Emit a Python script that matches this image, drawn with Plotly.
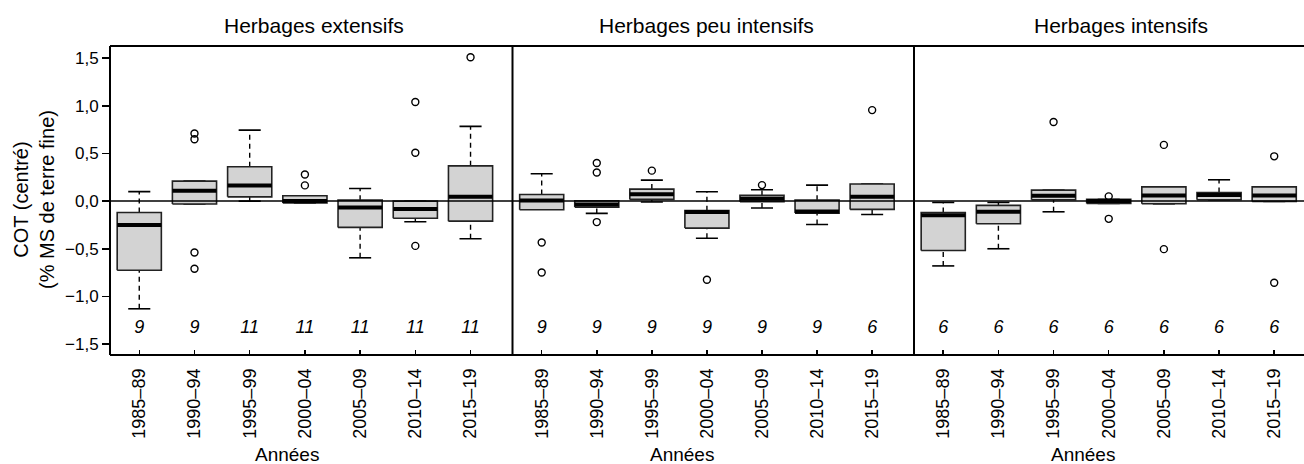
import plotly.graph_objects as go

# ---------------- data ----------------
periods = ["1985–89", "1990–94", "1995–99", "2000–04", "2005–09", "2010–14", "2015–19"]
panel_titles = ["Herbages extensifs", "Herbages peu intensifs", "Herbages intensifs"]

# Herbages extensifs
ext_lower = [-1.13, -0.03, 0.00, -0.02, -0.595, -0.217, -0.395]
ext_q1 = [-0.725, -0.03, 0.045, -0.02, -0.276, -0.18, -0.21]
ext_median = [-0.25, 0.11, 0.165, 0.0, -0.066, -0.084, 0.045]
ext_q3 = [-0.12, 0.21, 0.36, 0.056, 0.01, 0.0, 0.37]
ext_upper = [0.10, 0.21, 0.745, 0.056, 0.133, 0.0, 0.784]
ext_outliers = [[], [0.71, 0.65, -0.54, -0.71], [], [0.28, 0.165], [], [1.04, 0.507, -0.47], [1.51]]
ext_n = [9, 9, 11, 11, 11, 11, 11]

# Herbages peu intensifs
peu_lower = [-0.085, -0.129, -0.01, -0.39, -0.073, -0.245, -0.14]
peu_q1 = [-0.09, -0.063, 0.018, -0.283, -0.007, -0.126, -0.087]
peu_median = [0.007, -0.035, 0.073, -0.115, 0.025, -0.108, 0.045]
peu_q3 = [0.07, 0.003, 0.126, -0.10, 0.06, 0.01, 0.18]
peu_upper = [0.287, 0.003, 0.22, 0.098, 0.12, 0.168, 0.18]
peu_outliers = [[-0.434, -0.749], [0.40, 0.30, -0.22], [0.32], [-0.826], [0.168], [], [0.955]]
peu_n = [9, 9, 9, 9, 9, 9, 6]

# Herbages intensifs
int_lower = [-0.68, -0.50, -0.112, -0.024, -0.028, 0.014, -0.003]
int_q1 = [-0.518, -0.238, 0.014, -0.024, -0.028, 0.014, -0.003]
int_median = [-0.147, -0.112, 0.056, 0.0, 0.06, 0.063, 0.06]
int_q3 = [-0.119, -0.045, 0.115, 0.018, 0.15, 0.09, 0.15]
int_upper = [-0.014, -0.014, 0.115, 0.018, 0.15, 0.224, 0.15]
int_outliers = [[], [], [0.83], [0.05, -0.186], [0.59, -0.504], [], [0.47, -0.857]]
int_n = [6, 6, 6, 6, 6, 6, 6]

y_tickvals = [-1.5, -1.0, -0.5, 0.0, 0.5, 1.0, 1.5]
y_ticktext = ["−1,5", "−1,0", "−0,5", "0,0", "0,5", "1,0", "1,5"]
n_label_y = -1.335

panels = [
    (ext_lower, ext_q1, ext_median, ext_q3, ext_upper, ext_outliers, ext_n),
    (peu_lower, peu_q1, peu_median, peu_q3, peu_upper, peu_outliers, peu_n),
    (int_lower, int_q1, int_median, int_q3, int_upper, int_outliers, int_n),
]

# ---------------- layout geometry ----------------
W, H = 1304, 464
ML, MR, MT, MB = 110, 0, 46, 109
PW = W - ML - MR
PH = H - MT - MB
sep = [110, 512.5, 914, 1304]
domains = [[(sep[i] - ML) / PW, (sep[i + 1] - ML) / PW] for i in range(3)]
xranges = [[-0.53, 6.76], [-0.53, 6.76], [-0.53, 6.54]]
yrange = [-1.615, 1.628]

FONT = "Liberation Sans, Arial, Helvetica, sans-serif"
BW = 0.4   # half box width
CW = 0.2   # half cap width

fig = go.Figure()

for p, (lo, q1, med, q3, up, outl, ns) in enumerate(panels):
    xa = "x" if p == 0 else f"x{p+1}"
    ya = "y" if p == 0 else f"y{p+1}"
    bx, by, mx, my, wx, wy, cx, cy, ox, oy = [], [], [], [], [], [], [], [], [], []
    for i in range(len(periods)):
        bx += [i - BW, i + BW, i + BW, i - BW, i - BW, None]
        by += [q1[i], q1[i], q3[i], q3[i], q1[i], None]
        mx += [i - BW, i + BW, None]
        my += [med[i], med[i], None]
        wx += [i, i, None, i, i, None]
        wy += [lo[i], q1[i], None, q3[i], up[i], None]
        cx += [i - CW, i + CW, None, i - CW, i + CW, None]
        cy += [lo[i], lo[i], None, up[i], up[i], None]
        for v in outl[i]:
            ox.append(i)
            oy.append(v)
    fig.add_trace(go.Scatter(x=wx, y=wy, xaxis=xa, yaxis=ya, mode="lines",
                             line=dict(color="black", width=1.4, dash="5px,4px"),
                             hoverinfo="skip", showlegend=False))
    fig.add_trace(go.Scatter(x=cx, y=cy, xaxis=xa, yaxis=ya, mode="lines",
                             line=dict(color="black", width=1.6),
                             hoverinfo="skip", showlegend=False))
    fig.add_trace(go.Scatter(x=bx, y=by, xaxis=xa, yaxis=ya, mode="lines",
                             fill="toself", fillcolor="#d3d3d3",
                             line=dict(color="#222222", width=1.6),
                             hoverinfo="skip", showlegend=False))
    fig.add_trace(go.Scatter(x=mx, y=my, xaxis=xa, yaxis=ya, mode="lines",
                             line=dict(color="black", width=4),
                             hoverinfo="skip", showlegend=False))
    fig.add_trace(go.Scatter(x=ox, y=oy, xaxis=xa, yaxis=ya, mode="markers",
                             marker=dict(symbol="circle-open", size=7, color="black",
                                         line=dict(width=1.4, color="black")),
                             hoverinfo="skip", showlegend=False))
    fig.add_trace(go.Scatter(x=list(range(len(periods))), y=[n_label_y] * len(periods),
                             xaxis=xa, yaxis=ya, mode="text",
                             text=[str(v) for v in ns],
                             textfont=dict(family=FONT, size=18, color="black", style="italic"),
                             hoverinfo="skip", showlegend=False))

layout = dict(
    width=W, height=H,
    margin=dict(l=ML, r=MR, t=MT, b=MB, pad=0, autoexpand=False),
    paper_bgcolor="white", plot_bgcolor="white",
    font=dict(family=FONT, color="black"),
    showlegend=False,
    template="none",
)
for p in range(3):
    xk = "xaxis" if p == 0 else f"xaxis{p+1}"
    yk = "yaxis" if p == 0 else f"yaxis{p+1}"
    layout[xk] = dict(
        domain=domains[p], range=xranges[p], anchor="y" if p == 0 else f"y{p+1}",
        tickmode="array", tickvals=list(range(len(periods))), ticktext=periods,
        tickangle=-90, ticks="inside", ticklen=5, tickwidth=1.5, tickcolor="black",
        tickfont=dict(family=FONT, size=18, color="black"),
        ticklabelstandoff=9, automargin=False,
        showgrid=False, zeroline=False, showline=False, fixedrange=True,
    )
    layout[yk] = dict(
        domain=[0, 1], range=yrange, anchor="x" if p == 0 else f"x{p+1}",
        tickmode="array", tickvals=y_tickvals, ticktext=y_ticktext,
        ticks="outside" if p == 0 else "", ticklen=7, tickwidth=1.5, tickcolor="black",
        showticklabels=(p == 0), automargin=False,
        tickfont=dict(family=FONT, size=17, color="black"),
        showgrid=False, zeroline=False, showline=False, fixedrange=True,
    )
fig.update_layout(**layout)

shapes = []
# zero reference line
shapes.append(dict(type="line", xref="paper", yref="y", x0=0, x1=1, y0=0, y1=0,
                   line=dict(color="black", width=1.5), layer="above"))
# frame: top, bottom, left, separators
shapes.append(dict(type="line", xref="paper", yref="paper", x0=0, x1=1, y0=1, y1=1,
                   line=dict(color="black", width=2), layer="above"))
shapes.append(dict(type="line", xref="paper", yref="paper", x0=0, x1=1, y0=0, y1=0,
                   line=dict(color="black", width=2), layer="above"))
for d in [domains[0][0], domains[1][0], domains[2][0]]:
    shapes.append(dict(type="line", xref="paper", yref="paper", x0=d, x1=d, y0=0, y1=1,
                       line=dict(color="black", width=2), layer="above"))
fig.update_layout(shapes=shapes)

def px_to_paper_x(px):
    return (px - ML) / PW

def py_to_paper_y(py):
    return (H - MB - py) / PH

annotations = []
title_px = [314, 706, 1121]
for t, px in zip(panel_titles, title_px):
    annotations.append(dict(text=t, x=px_to_paper_x(px), y=py_to_paper_y(25),
                            xref="paper", yref="paper", showarrow=False,
                            xanchor="center", yanchor="middle",
                            font=dict(family=FONT, size=21, color="black")))
xtitle_px = [287, 682, 1083]
for px in xtitle_px:
    annotations.append(dict(text="Années", x=px_to_paper_x(px), y=py_to_paper_y(454),
                            xref="paper", yref="paper", showarrow=False,
                            xanchor="center", yanchor="middle",
                            font=dict(family=FONT, size=19, color="black")))
annotations.append(dict(text="COT (centré)<br>(% MS de terre fine)",
                        x=px_to_paper_x(34), y=py_to_paper_y(200),
                        xref="paper", yref="paper", showarrow=False, textangle=-90,
                        xanchor="center", yanchor="middle",
                        font=dict(family=FONT, size=20, color="black")))
fig.update_layout(annotations=annotations)

fig.write_html("out.html",
               config={"displayModeBar": False, "staticPlot": True},
               post_script="document.body.style.margin='0';document.body.style.overflow='hidden';")
